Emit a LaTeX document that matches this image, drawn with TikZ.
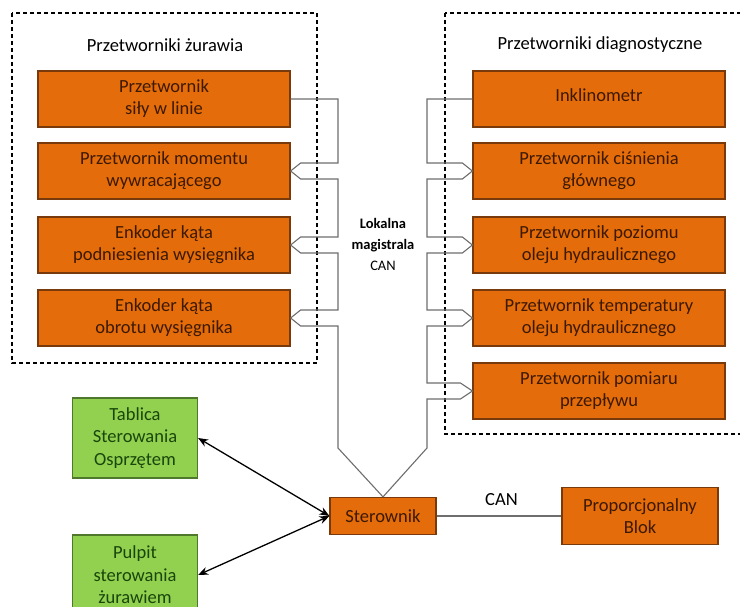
\documentclass[tikz,border=0pt]{standalone}
\usepackage{fontspec}
\setmainfont{Carlito}
\usepackage{tikz}
\usetikzlibrary{positioning,calc,arrows.meta}

\definecolor{pomfill}{RGB}{228,108,10}
\definecolor{pomdraw}{RGB}{120,58,10}
\definecolor{pomtext}{RGB}{60,25,0}
\definecolor{zielfill}{RGB}{146,208,80}
\definecolor{zieldraw}{RGB}{80,120,45}
\definecolor{zieltext}{RGB}{25,70,10}
\definecolor{magistr}{RGB}{110,110,110}

\tikzset{
  czujnik/.style={rectangle,draw=pomdraw,fill=pomfill,text=pomtext,line width=1.2pt,
    minimum width=252pt,minimum height=56pt,align=center,
    font=\fontsize{18.5}{22}\selectfont},
  panel/.style={rectangle,draw=zieldraw,fill=zielfill,text=zieltext,line width=1.2pt,
    minimum width=125pt,minimum height=80pt,align=center,
    font=\fontsize{18.5}{22.5}\selectfont},
  grupa/.style={draw=black,dash pattern=on 4pt off 3pt,line width=1.1pt},
  szyna/.style={draw=magistr,line width=1.1pt},
  strzalka/.style={{Stealth[length=10pt,width=8pt]}-{Stealth[length=10pt,width=8pt]},line width=1.3pt},
  opis/.style={font=\fontsize{18.5}{22}\selectfont}
}

\begin{document}
\begin{tikzpicture}[x=1pt,y=-1pt]
\clip (0,0) rectangle (740,607);
\fill[white] (0,0) rectangle (740,607);
%groups
\draw[grupa] (12,13) rectangle (317,363);
\draw[grupa] (445,13) rectangle (760,434);
\node (t_left)[opis] at (165,45) {Przetworniki żurawia};
\node (t_right)[opis] at (600,45) {Przetworniki diagnostyczne};
%crane sensors
\node (b1)[czujnik] at (164,99) {Przetwornik\\ siły w linie};
\node (b2)[czujnik] at (164,171) {Przetwornik momentu\\ wywracającego};
\node (b3)[czujnik] at (164,245) {Enkoder kąta\\ podniesienia wysięgnika};
\node (b4)[czujnik] at (164,318) {Enkoder kąta\\ obrotu wysięgnika};
%diagnostic sensors
\node (r1)[czujnik] at (599,99) {\raisebox{8pt}{Inklinometr}};
\node (r2)[czujnik] at (599,171) {Przetwornik ciśnienia\\ głównego};
\node (r3)[czujnik] at (599,245) {Przetwornik poziomu\\ oleju hydraulicznego};
\node (r4)[czujnik] at (599,318) {Przetwornik temperatury\\ oleju hydraulicznego};
\node (r5)[czujnik] at (599,391) {Przetwornik pomiaru\\ przepływu};
%controller
\node (ster)[czujnik,minimum width=106pt,minimum height=37pt] at (383,516) {Sterownik};
\node (blok)[czujnik,minimum width=156pt,minimum height=57pt] at (640,516) {Proporcjonalny\\ Blok};
\node (tab)[panel] at (135,438) {Tablica\\ Sterowania\\ Osprzętem};
\node (pul)[panel] at (135,575) {Pulpit\\ sterowania\\ żurawiem};
\node (lok)[align=center,font=\fontsize{14.5}{21}\selectfont] at (383,244)
  {\textbf{Lokalna}\\ \textbf{magistrala}\\ CAN};
%left bus
\draw[szyna] (b1.east) -- (338,99) -- (338,163) -- ($(b2.east)+(10,-8)$) -- (b2.east)
  -- ($(b2.east)+(10,8)$) -- (338,179) -- (338,237) -- ($(b3.east)+(10,-8)$) -- (b3.east)
  -- ($(b3.east)+(10,8)$) -- (338,253) -- (338,310) -- ($(b4.east)+(10,-8)$) -- (b4.east)
  -- ($(b4.east)+(10,8)$) -- (338,326) -- (338,448) -- (ster.north);
%right bus
\draw[szyna] (r1.west) -- (427,99) -- (427,163) -- ($(r2.west)+(-10,-8)$) -- (r2.west)
  -- ($(r2.west)+(-10,8)$) -- (427,179) -- (427,237) -- ($(r3.west)+(-10,-8)$) -- (r3.west)
  -- ($(r3.west)+(-10,8)$) -- (427,253) -- (427,310) -- ($(r4.west)+(-10,-8)$) -- (r4.west)
  -- ($(r4.west)+(-10,8)$) -- (427,326) -- (427,383) -- ($(r5.west)+(-12,-8)$) -- (r5.west)
  -- ($(r5.west)+(-12,8)$) -- (427,399) -- (427,448) -- (ster.north);
\draw[szyna] (ster.east) -- node[above=6pt,opis,pos=0.52] (can) {CAN} (blok.west);
\draw[strzalka] (tab.east) -- (ster.west);
\draw[strzalka] (pul.east) -- (ster.west);
\end{tikzpicture}
\end{document}
